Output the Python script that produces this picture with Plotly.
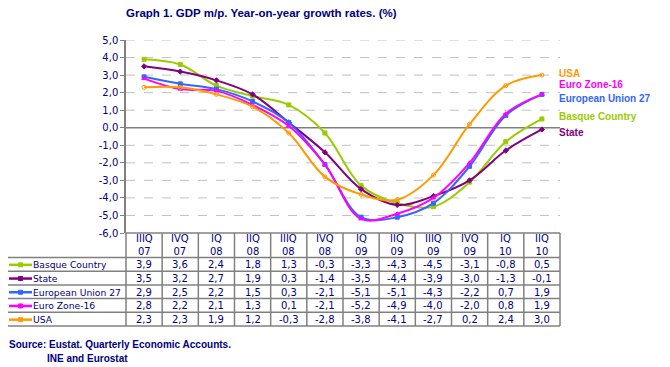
import plotly.graph_objects as go

quarters = ["IIIQ<br>07", "IVQ<br>07", "IQ<br>08", "IIQ<br>08", "IIIQ<br>08", "IVQ<br>08",
            "IQ<br>09", "IIQ<br>09", "IIIQ<br>09", "IVQ<br>09", "IQ<br>10", "IIQ<br>10"]
basque = [3.9, 3.6, 2.4, 1.8, 1.3, -0.3, -3.3, -4.3, -4.5, -3.1, -0.8, 0.5]
state = [3.5, 3.2, 2.7, 1.9, 0.3, -1.4, -3.5, -4.4, -3.9, -3.0, -1.3, -0.1]
eu27 = [2.9, 2.5, 2.2, 1.5, 0.3, -2.1, -5.1, -5.1, -4.3, -2.2, 0.7, 1.9]
ez16 = [2.8, 2.2, 2.1, 1.3, 0.1, -2.1, -5.2, -4.9, -4.0, -2.0, 0.8, 1.9]
usa = [2.3, 2.3, 1.9, 1.2, -0.3, -2.8, -3.8, -4.1, -2.7, 0.2, 2.4, 3.0]
series_names = ["Basque Country", "State", "European Union 27", "Euro Zone-16", "USA"]
y_ticks = [5, 4, 3, 2, 1, 0, -1, -2, -3, -4, -5, -6]
y_tick_labels = ["5,0", "4,0", "3,0", "2,0", "1,0", "0,0", "-1,0", "-2,0", "-3,0", "-4,0", "-5,0", "-6,0"]

series = [basque, state, eu27, ez16, usa]
colors = ["#99CC00", "#800080", "#3366FF", "#FF00FF", "#FF9900"]
symbols = ["square", "diamond", "square", "triangle-up", "circle-open"]
NAVY = "#000080"
GRID = "#808080"

# page body has an 8px default margin; lay out in screen pixels and offset
OFF = 8
W, H = 670 - OFF, 367 - OFF
L, R, T, B = 126, 560, 40, 233  # screen pixels
pw, ph = R - L, B - T

def px(x):
    return (x - L) / pw

def py(y):
    return (B - y) / ph

fig = go.Figure()
n = len(quarters)
xs = list(range(n))
for name, vals, c, s in zip(series_names, series, colors, symbols):
    fig.add_trace(go.Scatter(
        x=xs, y=vals, name=name, mode="lines+markers",
        line=dict(color=c, width=2, shape="spline", smoothing=1.0),
        marker=dict(color=c, size=4, symbol=s, line=dict(color=c, width=1)),
        showlegend=False, hoverinfo="skip"))

shapes = []
annotations = []

# gridlines
for t in y_ticks:
    if t == 0:
        shapes.append(dict(type="line", xref="paper", yref="y", x0=0, x1=1, y0=0, y1=0,
                           line=dict(color=GRID, width=1.5), layer="below"))
    elif t > -6:
        shapes.append(dict(type="line", xref="paper", yref="y", x0=0, x1=1, y0=t, y1=t,
                           line=dict(color="#C0C0C0", width=1, dash="dash"), layer="below"))

# right-side labels
label_shift = [2, -3, -4, 10, 2]
for name, vals, c, ys in zip(series_names, series, colors, label_shift):
    annotations.append(dict(xref="paper", yref="y", x=1, y=vals[-1], xshift=-3, yshift=ys,
                            text="<b>%s</b>" % name, showarrow=False, xanchor="left", yanchor="middle",
                            font=dict(family="Liberation Sans", size=10, color=c)))

# table
head_top, head_bot = 233, 257.5
row_h = 13.7
rows_bot = head_bot + row_h * len(series)
tbl_left = 7
col_w = pw / n
shapes.append(dict(type="line", xref="paper", yref="paper", x0=px(tbl_left), x1=px(tbl_left),
                   y0=py(head_bot), y1=py(rows_bot), line=dict(color=GRID, width=1.5)))
for i in range(n + 1):
    xx = L + i * col_w
    shapes.append(dict(type="line", xref="paper", yref="paper", x0=px(xx), x1=px(xx),
                       y0=py(head_top), y1=py(rows_bot), line=dict(color=GRID, width=1.5)))
shapes.append(dict(type="line", xref="paper", yref="paper", x0=0, x1=1,
                   y0=py(head_top), y1=py(head_top), line=dict(color=GRID, width=1.5)))
for r in range(len(series) + 1):
    yy = head_bot + r * row_h
    shapes.append(dict(type="line", xref="paper", yref="paper", x0=px(tbl_left), x1=1,
                       y0=py(yy), y1=py(yy), line=dict(color=GRID, width=1.5)))
for i, q in enumerate(quarters):
    annotations.append(dict(xref="x", yref="paper", x=i, y=py((head_top + head_bot) / 2),
                            text=q, showarrow=False, xanchor="center", yanchor="middle",
                            font=dict(family="DejaVu Sans", size=10, color=NAVY)))
for r, (name, vals, c, s) in enumerate(zip(series_names, series, colors, symbols)):
    yc = head_bot + r * row_h + row_h / 2 + 0.5
    shapes.append(dict(type="line", xref="paper", yref="paper", x0=px(9), x1=px(32),
                       y0=py(yc), y1=py(yc), line=dict(color=c, width=2.5)))
    shapes.append(dict(type="rect", xref="paper", yref="paper", x0=px(18.5), x1=px(22.5),
                       y0=py(yc - 2), y1=py(yc + 2), line=dict(color=c, width=1), fillcolor=c))
    annotations.append(dict(xref="paper", yref="paper", x=px(31), y=py(yc),
                            text=name, showarrow=False, xanchor="left", yanchor="middle",
                            font=dict(family="DejaVu Sans", size=9.2, color=NAVY)))
    for i, v in enumerate(vals):
        annotations.append(dict(xref="x", yref="paper", x=i, y=py(yc),
                                text=("%.1f" % v).replace(".", ","), showarrow=False,
                                xanchor="center", yanchor="middle",
                                font=dict(family="DejaVu Sans", size=10, color=NAVY)))

annotations.append(dict(xref="paper", yref="paper", x=px(261), y=py(13),
                        text="<b>Graph 1. GDP m/p. Year-on-year growth rates. (%)</b>",
                        showarrow=False, xanchor="center", yanchor="middle",
                        font=dict(family="Liberation Sans", size=11.5, color=NAVY)))
annotations.append(dict(xref="paper", yref="paper", x=px(7), y=py(345),
                        text="<b>Source: Eustat. Quarterly Economic Accounts.</b>",
                        showarrow=False, xanchor="left", yanchor="middle",
                        font=dict(family="Liberation Sans", size=10, color=NAVY)))
annotations.append(dict(xref="paper", yref="paper", x=px(45), y=py(358),
                        text="<b>INE and Eurostat</b>",
                        showarrow=False, xanchor="left", yanchor="middle",
                        font=dict(family="Liberation Sans", size=10, color=NAVY)))

fig.update_layout(
    width=W, height=H,
    margin=dict(l=L - OFF, r=670 - R, t=T - OFF, b=367 - B, pad=0),
    paper_bgcolor="white", plot_bgcolor="white",
    shapes=shapes, annotations=annotations,
    xaxis=dict(range=[-0.5, n - 0.5], showticklabels=False, showgrid=False, zeroline=False,
               ticks="", showline=False, fixedrange=True),
    yaxis=dict(range=[-6, 5], tickvals=y_ticks, ticktext=y_tick_labels, showgrid=False,
               zeroline=False, showline=True, linecolor=GRID, linewidth=1.5,
               ticks="outside", ticklen=4, tickcolor=GRID,
               tickfont=dict(family="DejaVu Sans", size=10, color=NAVY), fixedrange=True),
)
fig.write_html("out.html")
